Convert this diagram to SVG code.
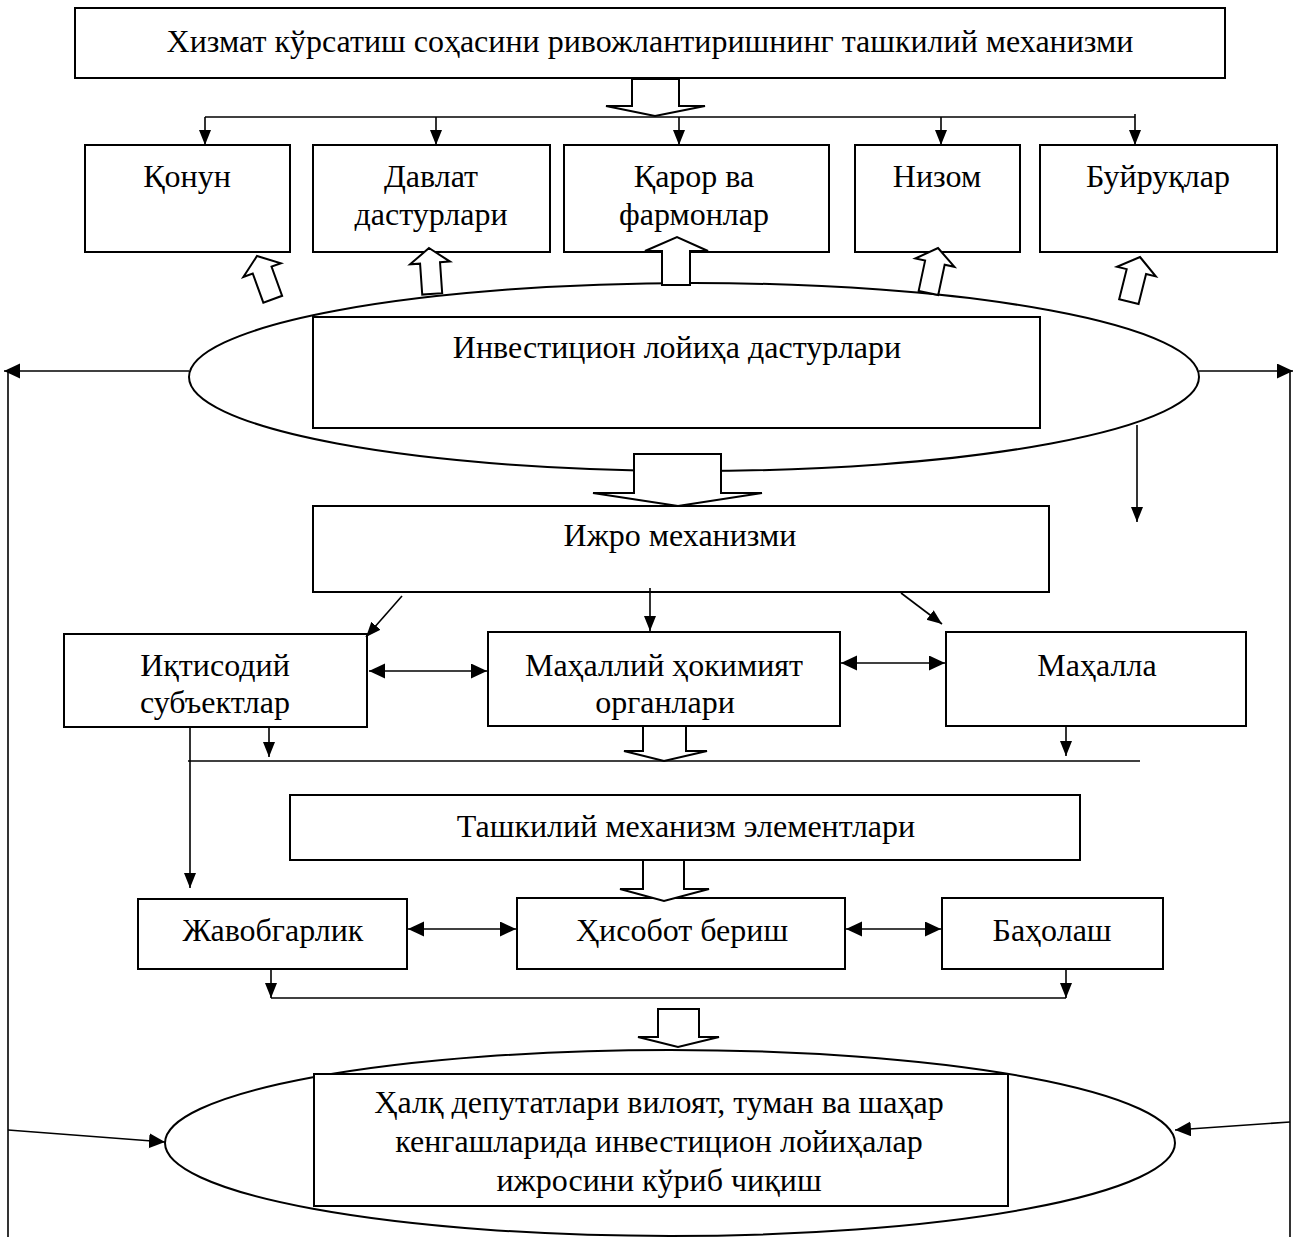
<svg xmlns="http://www.w3.org/2000/svg" width="1293" height="1237" viewBox="0 0 1293 1237">
<style>
  .box { fill: #fff; stroke: #000; stroke-width: 2; }
  .ell { fill: #fff; stroke: #000; stroke-width: 2; }
  .blk { fill: #fff; stroke: #000; stroke-width: 2; stroke-linejoin: miter; }
  .ln { fill: none; stroke: #000; stroke-width: 1.6; }
  .t { font-family: "Liberation Serif", "Times New Roman", serif; font-size: 32px; fill: #000; text-anchor: middle; }
</style>
<defs>
  <marker id="ah" markerUnits="userSpaceOnUse" markerWidth="16" markerHeight="14" refX="15" refY="6" orient="auto-start-reverse">
    <path d="M0,0 L15,6 L0,12 z" fill="#000"/>
  </marker>
  <marker id="ah2" markerUnits="userSpaceOnUse" markerWidth="17" markerHeight="16" refX="16" refY="7.5" orient="auto-start-reverse">
    <path d="M0,0 L16,7.5 L0,15 z" fill="#000"/>
  </marker>
  <path id="tiltArrow" d="M0,0 L20,15 L10,15 L10,46 L-10,46 L-10,15 L-20,15 Z"/>
</defs>

<g id="ellipse-top"><ellipse class="ell" cx="694" cy="377" rx="505" ry="94"/></g>
<g id="ellipse-bottom"><ellipse class="ell" cx="670" cy="1143" rx="505" ry="93"/></g>

<g id="title"><rect class="box" x="75" y="8" width="1150" height="70"/>
  <text class="t" x="650" y="52">Хизмат кўрсатиш соҳасини ривожлантиришнинг ташкилий механизми</text></g>

<g id="qonun"><rect class="box" x="85" y="145" width="205" height="107"/>
  <text class="t" x="187" y="187">Қонун</text></g>
<g id="davlat"><rect class="box" x="313" y="145" width="237" height="107"/>
  <text class="t" x="431" y="187">Давлат</text><text class="t" x="431" y="225">дастурлари</text></g>
<g id="qaror"><rect class="box" x="564" y="145" width="265" height="107"/>
  <text class="t" x="694" y="187">Қарор ва</text><text class="t" x="694" y="225">фармонлар</text></g>
<g id="nizom"><rect class="box" x="855" y="145" width="165" height="107"/>
  <text class="t" x="937" y="187">Низом</text></g>
<g id="buyruq"><rect class="box" x="1040" y="145" width="237" height="107"/>
  <text class="t" x="1158" y="187">Буйруқлар</text></g>

<g id="investitsion"><rect class="box" x="313" y="317" width="727" height="111"/>
  <text class="t" x="677" y="358">Инвестицион лойиҳа дастурлари</text></g>

<g id="ijro"><rect class="box" x="313" y="506" width="736" height="86"/>
  <text class="t" x="680" y="546">Ижро механизми</text></g>

<g id="iqtisodiy"><rect class="box" x="64" y="634" width="303" height="93"/>
  <text class="t" x="215" y="676">Иқтисодий</text><text class="t" x="215" y="713">субъектлар</text></g>
<g id="hokimiyat"><rect class="box" x="488" y="632" width="352" height="94"/>
  <text class="t" x="664" y="676">Маҳаллий ҳокимият</text><text class="t" x="665" y="713">органлари</text></g>
<g id="mahalla"><rect class="box" x="946" y="632" width="300" height="94"/>
  <text class="t" x="1097" y="676">Маҳалла</text></g>

<g id="tashkiliy"><rect class="box" x="290" y="795" width="790" height="65"/>
  <text class="t" x="686" y="837">Ташкилий механизм элементлари</text></g>

<g id="javobgarlik"><rect class="box" x="138" y="899" width="269" height="70"/>
  <text class="t" x="273" y="941">Жавобгарлик</text></g>
<g id="hisobot"><rect class="box" x="517" y="898" width="328" height="71"/>
  <text class="t" x="682" y="941">Ҳисобот бериш</text></g>
<g id="baholash"><rect class="box" x="942" y="898" width="221" height="71"/>
  <text class="t" x="1052" y="941">Баҳолаш</text></g>

<g id="kengash"><rect class="box" x="314" y="1074" width="694" height="132"/>
  <text class="t" x="659" y="1113">Ҳалқ депутатлари вилоят, туман ва шаҳар</text>
  <text class="t" x="659" y="1152">кенгашларида инвестицион лойиҳалар</text>
  <text class="t" x="659" y="1191">ижросини кўриб чиқиш</text></g>

<g id="connectors">
  <path class="blk" d="M632,79 H679 V106 H705 L655,116 L606,106 H632 Z"/>
  <path class="blk" d="M662,285 V251 H645 L677,237 L708,251 H690 V285 Z"/>
  <path class="blk" d="M634,454 H721 V493 H762 L678,506 L593,493 H634 Z"/>
  <path class="blk" d="M643,726 H686 V751 H707 L664,761 L624,751 H643 Z"/>
  <path class="blk" d="M643,860 H684 V889 H709 L664,901 L620,889 H643 Z"/>
  <path class="blk" d="M658,1009 H699 V1037 H719 L678,1047 L638,1037 H658 Z"/>
  <use href="#tiltArrow" class="blk" transform="translate(257,256) rotate(-20)"/>
  <use href="#tiltArrow" class="blk" transform="translate(429,248) rotate(-4)"/>
  <use href="#tiltArrow" class="blk" transform="translate(938,248) rotate(12)"/>
  <use href="#tiltArrow" class="blk" transform="translate(1140,257) rotate(14)"/>

  <path class="ln" d="M205,117 H1135"/>
  <path class="ln" d="M205,117 V145" marker-end="url(#ah)"/>
  <path class="ln" d="M436,117 V145" marker-end="url(#ah)"/>
  <path class="ln" d="M679,117 V145" marker-end="url(#ah)"/>
  <path class="ln" d="M941,117 V145" marker-end="url(#ah)"/>
  <path class="ln" d="M1135,114 V145" marker-end="url(#ah)"/>

  <path class="ln" d="M189,371 H4" marker-end="url(#ah2)"/>
  <path class="ln" d="M8,371 V1237"/>
  <path class="ln" d="M1199,371 H1293" marker-end="url(#ah2)"/>
  <path class="ln" d="M1290,371 V1237"/>
  <path class="ln" d="M8,1130 L165,1142" marker-end="url(#ah2)"/>
  <path class="ln" d="M1290,1122 L1175,1130" marker-end="url(#ah2)"/>

  <path class="ln" d="M1137,425 V522" marker-end="url(#ah)"/>

  <path class="ln" d="M402,596 L366,637" marker-end="url(#ah)"/>
  <path class="ln" d="M650,588 V631" marker-end="url(#ah)"/>
  <path class="ln" d="M901,593 L942,624" marker-end="url(#ah)"/>

  <path class="ln" d="M369,671 H487" marker-start="url(#ah2)" marker-end="url(#ah2)"/>
  <path class="ln" d="M841,663 H945" marker-start="url(#ah2)" marker-end="url(#ah2)"/>

  <path class="ln" d="M269,727 V757" marker-end="url(#ah)"/>
  <path class="ln" d="M1066,726 V756" marker-end="url(#ah)"/>
  <path class="ln" d="M188,761 H1140"/>
  <path class="ln" d="M190,727 V888" marker-end="url(#ah)"/>

  <path class="ln" d="M408,929 H516" marker-start="url(#ah2)" marker-end="url(#ah2)"/>
  <path class="ln" d="M846,929 H941" marker-start="url(#ah2)" marker-end="url(#ah2)"/>

  <path class="ln" d="M271,969 V998" marker-end="url(#ah)"/>
  <path class="ln" d="M1066,969 V998" marker-end="url(#ah)"/>
  <path class="ln" d="M271,998 H1066"/>
</g>
</svg>
